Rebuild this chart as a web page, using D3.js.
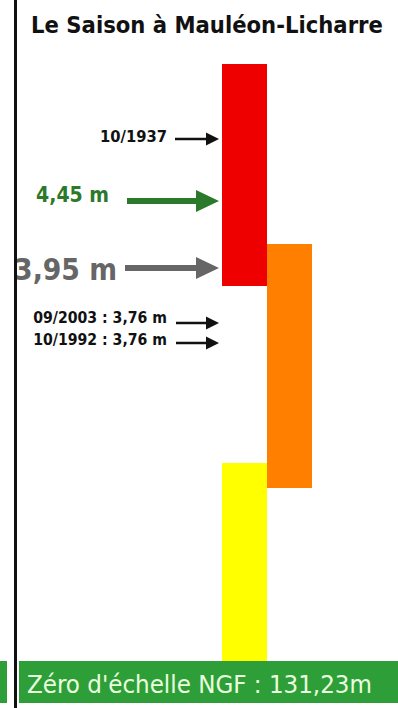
<!DOCTYPE html>
<html>
<head>
<meta charset="utf-8">
<script src="https://cdn.jsdelivr.net/npm/d3@7"></script>
<style>
  html, body { margin: 0; padding: 0; background: #fff; }
  svg { display: block; }
</style>
</head>
<body>
<div id="chart"></div>
<script>
// vigilance bands (schematic gauge, metres above the scale zero)
var bandNames = ["jaune", "orange", "rouge"];
var bandLow = [0, 1.73, 3.75];
var bandHigh = [1.98, 4.17, 5.97];
var bandColumn = ["c1", "c2", "c1"];
var bandColors = ["#ffff00", "#ff8000", "#ee0000"];

// marks pointing at the gauge
var markLabels = ["10/1937", "4,45 m", "3,95 m", "09/2003 : 3,76 m", "10/1992 : 3,76 m"];
var markLevels = [5.22, 4.60, 3.93, 3.38, 3.18];
var markKinds = ["small", "big", "big", "small", "small"];

var titleText = "Le Saison à Mauléon-Licharre";
var zeroText = "Zéro d'échelle NGF : 131,23m";

var width = 398;
var height = 708;

var svg = d3.select("#chart").append("svg")
    .attr("width", width)
    .attr("height", height);

var y = d3.scaleLinear().domain([0, 6]).range([661, 61]);
var x = d3.scaleBand().domain(["c1", "c2"]).range([222, 312]).padding(0);

// fit a text element to a given width by changing its font size
function fit(sel, w) {
    var fs = parseFloat(sel.attr("font-size"));
    var cur = sel.node().getComputedTextLength();
    sel.attr("font-size", fs * w / cur);
}

var font = "'DejaVu Sans Condensed', 'DejaVu Sans', Verdana, sans-serif";

// title
var title = svg.append("text")
    .attr("x", 207)
    .attr("y", 33)
    .attr("text-anchor", "middle")
    .attr("font-family", font)
    .attr("font-weight", "bold")
    .attr("font-size", 23)
    .attr("fill", "#111")
    .text(titleText);
fit(title, 352);

// bars
svg.append("g").selectAll("rect")
    .data(bandNames)
    .enter().append("rect")
    .attr("x", function(d, i) { return x(bandColumn[i]); })
    .attr("width", x.bandwidth())
    .attr("y", function(d, i) { return y(bandHigh[i]); })
    .attr("height", function(d, i) { return y(bandLow[i]) - y(bandHigh[i]); })
    .attr("fill", function(d, i) { return bandColors[i]; });

// arrows
var style = {
    small: { start: 176, shaft: 2.6, headL: 13, headH: 13, gap: 9, color: "#111", fs: 14 },
    big: { start: 125, shaft: 6, headL: 23, headH: 22, gap: 9, color: "#666", fs: 27 }
};
var tipX = 219;

var marks = svg.append("g").selectAll("g")
    .data(markLabels)
    .enter().append("g");

marks.append("path")
    .attr("d", function(d, i) {
        var s = style[markKinds[i]];
        var cy = y(markLevels[i]);
        var start = s.start;
        if (i === 1) start = 127;
        if (i === 0) start = 175;
        var hx = tipX - s.headL;
        return "M" + start + "," + (cy - s.shaft / 2) +
            "L" + hx + "," + (cy - s.shaft / 2) +
            "L" + hx + "," + (cy - s.headH / 2) +
            "L" + tipX + "," + cy +
            "L" + hx + "," + (cy + s.headH / 2) +
            "L" + hx + "," + (cy + s.shaft / 2) +
            "L" + start + "," + (cy + s.shaft / 2) + "Z";
    })
    .attr("fill", function(d, i) { return i === 1 ? "#2b7a2b" : style[markKinds[i]].color; });

var targetW = [67, 73, 103, 134, 134];
var rightX = [167, 109, 117, 167, 167];
var baseDy = [3, 1, 12, 0, 2];
var fsMark = [14, 18, 27, 14, 14];

marks.append("text")
    .attr("x", function(d, i) { return rightX[i]; })
    .attr("y", function(d, i) { return y(markLevels[i]) + baseDy[i]; })
    .attr("text-anchor", "end")
    .attr("font-family", font)
    .attr("font-weight", "bold")
    .attr("font-size", function(d, i) { return fsMark[i]; })
    .attr("fill", function(d, i) { return i === 1 ? "#2b7a2b" : style[markKinds[i]].color; })
    .text(function(d) { return d; })
    .each(function(d, i) { fit(d3.select(this), targetW[i]); });

// zero band
svg.append("rect")
    .attr("x", 0).attr("y", y(0))
    .attr("width", width).attr("height", 42)
    .attr("fill", "#2e9f38");
svg.append("rect")
    .attr("x", 7).attr("y", y(0))
    .attr("width", 12).attr("height", 42)
    .attr("fill", "#fff");

var zero = svg.append("text")
    .attr("x", 27)
    .attr("y", 693)
    .attr("font-family", font)
    .attr("font-size", 26)
    .attr("fill", "#eaffdf")
    .text(zeroText);
fit(zero, 345);

// vertical axis line
svg.append("line")
    .attr("x1", 15.5).attr("x2", 15.5)
    .attr("y1", 0).attr("y2", height)
    .attr("stroke", "#111")
    .attr("stroke-width", 3);
</script>
</body>
</html>
